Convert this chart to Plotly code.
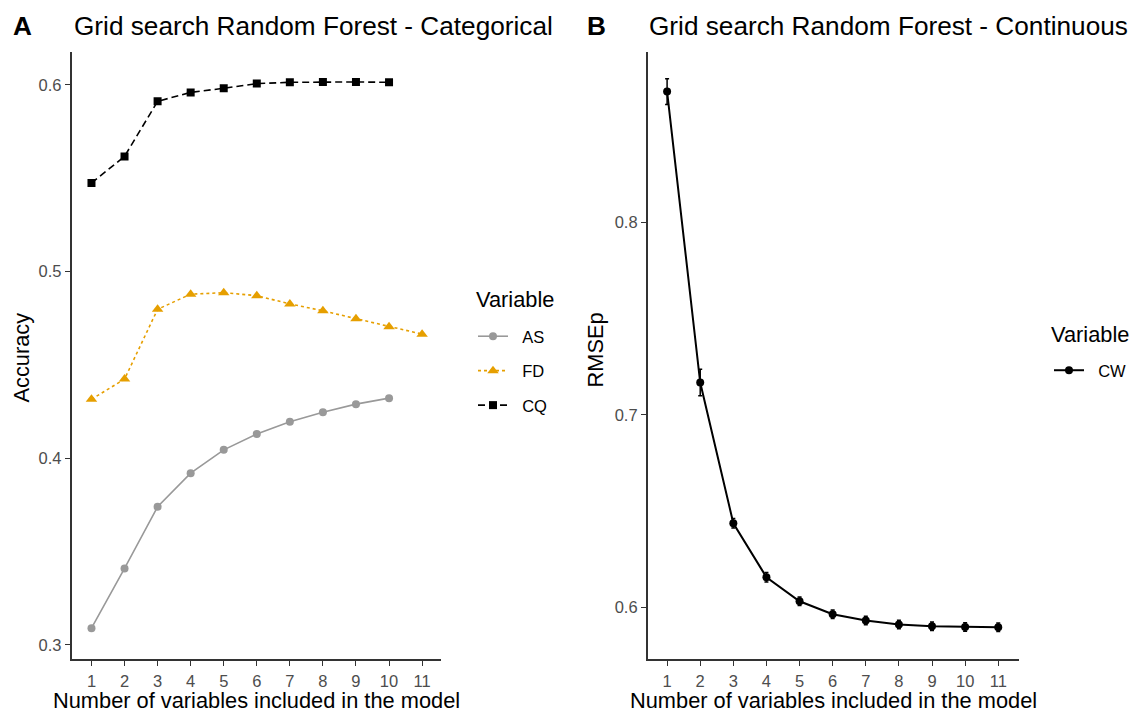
import plotly.graph_objects as go

# ---- data ----
n_vars = [1, 2, 3, 4, 5, 6, 7, 8, 9, 10, 11]
as_acc = [0.309, 0.341, 0.374, 0.392, 0.4045, 0.413, 0.4196, 0.4247, 0.429, 0.4322]
fd_acc = [0.4316, 0.4424, 0.4798, 0.4879, 0.4887, 0.4871, 0.4827, 0.479, 0.4748, 0.4705, 0.4665]
cq_acc = [0.5475, 0.5617, 0.5912, 0.596, 0.5982, 0.6007, 0.6014, 0.6016, 0.6016, 0.6014]
cw_rmsep = [0.8678, 0.7168, 0.6438, 0.6158, 0.6033, 0.5966, 0.5933, 0.5912, 0.5903, 0.59, 0.5898]
cw_err = [0.0067, 0.0069, 0.0025, 0.0025, 0.0022, 0.0022, 0.0022, 0.0022, 0.0022, 0.0022, 0.0022]
ticks_a = [0.3, 0.4, 0.5, 0.6]
ticks_b = [0.6, 0.7, 0.8]
labels_a = ["AS", "FD", "CQ"]
labels_b = ["CW"]

FONT = "Liberation Sans, Arial, sans-serif"
BASE = 21.8
TICK = 16.5
TITLE = 26.2
GREY = "#999999"
ORANGE = "#E69F00"
PAD = "\u00a0\u00a0"

fig = go.Figure()

fig.add_trace(go.Scatter(
    x=n_vars[:len(as_acc)], y=as_acc, name=PAD + labels_a[0], mode="lines+markers",
    line=dict(color=GREY, width=1.6),
    marker=dict(symbol="circle", size=8, color=GREY),
    xaxis="x", yaxis="y", legend="legend", legendgroup="AS"))
fig.add_trace(go.Scatter(
    x=n_vars[:len(fd_acc)], y=fd_acc, name=PAD + labels_a[1], mode="lines+markers",
    line=dict(color=ORANGE, width=1.6, dash="3px,3px"),
    marker=dict(symbol="triangle-up", size=10, color=ORANGE),
    xaxis="x", yaxis="y", legend="legend", legendgroup="FD"))
fig.add_trace(go.Scatter(
    x=n_vars[:len(cq_acc)], y=cq_acc, name=PAD + labels_a[2], mode="lines+markers",
    line=dict(color="black", width=1.6, dash="7px,4px"),
    marker=dict(symbol="square", size=8, color="black"),
    xaxis="x", yaxis="y", legend="legend", legendgroup="CQ"))

fig.add_trace(go.Scatter(
    x=n_vars, y=cw_rmsep, name=PAD + labels_b[0], mode="lines+markers",
    line=dict(color="black", width=2),
    marker=dict(symbol="circle", size=8, color="black"),
    error_y=dict(type="data", array=cw_err, visible=True, color="black", thickness=1.5, width=2),
    xaxis="x2", yaxis="y2", legend="legend2", legendgroup="CW"))

W, H = 1132, 712
ax_a = (71.7 / W, 441.0 / W)
ax_b = (648.3 / W, 1020.0 / W)
y_dom = (1 - 659.3 / H, 1 - 51.7 / H)

axis_common = dict(
    showline=True, linecolor="#333333", linewidth=1.7,
    ticks="outside", ticklen=5, tickwidth=1.4, tickcolor="#333333",
    showgrid=False, zeroline=False,
    tickfont=dict(family=FONT, size=TICK, color="#4D4D4D"),
    automargin=False,
)

fig.update_layout(
    width=W, height=H,
    margin=dict(l=0, r=0, t=0, b=0),
    paper_bgcolor="white", plot_bgcolor="white",
    font=dict(family=FONT, color="black"),
    xaxis=dict(domain=list(ax_a), range=[0.4, 11.56], tickvals=n_vars, anchor="y",
               ticklabelstandoff=1, **axis_common),
    yaxis=dict(domain=list(y_dom), range=[0.2923, 0.6178], tickvals=ticks_a, anchor="x",
               **axis_common),
    xaxis2=dict(domain=list(ax_b), range=[0.415, 11.63], tickvals=n_vars, anchor="y2",
                ticklabelstandoff=1, **axis_common),
    yaxis2=dict(domain=list(y_dom), range=[0.5732, 0.8885], tickvals=ticks_b, anchor="x2",
                **axis_common),
    legend=dict(
        x=473 / W, y=1 - 319 / H, xanchor="left", yanchor="top",
        font=dict(family=FONT, size=TICK, color="black"),
        tracegroupgap=10, itemwidth=30, bgcolor="rgba(0,0,0,0)",
    ),
    legend2=dict(
        x=1050 / W, y=1 - 353 / H, xanchor="left", yanchor="top",
        font=dict(family=FONT, size=TICK, color="black"),
        itemwidth=30, bgcolor="rgba(0,0,0,0)",
    ),
    showlegend=True,
)

annos = [
    dict(text="<b>A</b>", x=11 / W, y=1 - 26 / H, xanchor="left", yanchor="middle",
         font=dict(size=TITLE, family=FONT)),
    dict(text="Grid search Random Forest - Categorical", x=72 / W, y=1 - 26 / H,
         xanchor="left", yanchor="middle", font=dict(size=TITLE, family=FONT)),
    dict(text="<b>B</b>", x=586 / W, y=1 - 26 / H, xanchor="left", yanchor="middle",
         font=dict(size=TITLE, family=FONT)),
    dict(text="Grid search Random Forest - Continuous", x=648 / W, y=1 - 26 / H,
         xanchor="left", yanchor="middle", font=dict(size=TITLE, family=FONT)),
    dict(text="Number of variables included in the model", x=(ax_a[0] + ax_a[1]) / 2, y=1 - 700 / H,
         xanchor="center", yanchor="middle", font=dict(size=BASE, family=FONT)),
    dict(text="Number of variables included in the model", x=(ax_b[0] + ax_b[1]) / 2, y=1 - 700 / H,
         xanchor="center", yanchor="middle", font=dict(size=BASE, family=FONT)),
    dict(text="Accuracy", x=21.5 / W, y=1 - 357 / H, textangle=-90,
         xanchor="center", yanchor="middle", font=dict(size=BASE, family=FONT)),
    dict(text="RMSEp", x=596 / W, y=1 - 350 / H, textangle=-90,
         xanchor="center", yanchor="middle", font=dict(size=BASE, family=FONT)),
    dict(text="Variable", x=474 / W, y=1 - 299 / H,
         xanchor="left", yanchor="middle", font=dict(size=BASE, family=FONT)),
    dict(text="Variable", x=1050 / W, y=1 - 334 / H,
         xanchor="left", yanchor="middle", font=dict(size=BASE, family=FONT)),
]
for a in annos:
    a.update(xref="paper", yref="paper", showarrow=False)
fig.update_layout(annotations=annos)

fig.write_html("out.html", config={"displayModeBar": False},
               post_script="document.body.style.margin='0';document.body.style.padding='0';")
